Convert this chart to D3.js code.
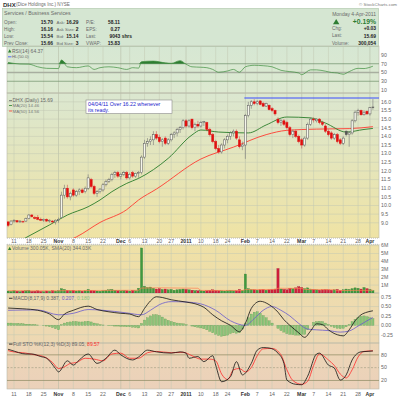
<!DOCTYPE html>
<html><head><meta charset="utf-8">
<script src="https://cdn.jsdelivr.net/npm/d3@7/dist/d3.min.js"></script>
<style>body{margin:0;background:#fff}svg{display:block}text{font-family:"Liberation Sans",Arial,sans-serif}</style>
</head><body><svg id="c" width="400" height="400"></svg>
<script>
// ---------- DATA ----------
const dates = [
"2010-10-07","2010-10-08","2010-10-11","2010-10-12","2010-10-13","2010-10-14","2010-10-15","2010-10-18","2010-10-19","2010-10-20","2010-10-21","2010-10-22","2010-10-25","2010-10-26","2010-10-27","2010-10-28","2010-10-29",
"2010-11-01","2010-11-02","2010-11-03","2010-11-04","2010-11-05","2010-11-08","2010-11-09","2010-11-10","2010-11-11","2010-11-12","2010-11-15","2010-11-16","2010-11-17","2010-11-18","2010-11-19","2010-11-22","2010-11-23","2010-11-24","2010-11-26","2010-11-29","2010-11-30",
"2010-12-01","2010-12-02","2010-12-03","2010-12-06","2010-12-07","2010-12-08","2010-12-09","2010-12-10","2010-12-13","2010-12-14","2010-12-15","2010-12-16","2010-12-17","2010-12-20","2010-12-21","2010-12-22","2010-12-23","2010-12-27","2010-12-28","2010-12-29","2010-12-30","2010-12-31",
"2011-01-03","2011-01-04","2011-01-05","2011-01-06","2011-01-07","2011-01-10","2011-01-11","2011-01-12","2011-01-13","2011-01-14","2011-01-18","2011-01-19","2011-01-20","2011-01-21","2011-01-24","2011-01-25","2011-01-26","2011-01-27","2011-01-28","2011-01-31",
"2011-02-01","2011-02-02","2011-02-03","2011-02-04","2011-02-07","2011-02-08","2011-02-09","2011-02-10","2011-02-11","2011-02-14","2011-02-15","2011-02-16","2011-02-17","2011-02-18","2011-02-22","2011-02-23","2011-02-24","2011-02-25","2011-02-28",
"2011-03-01","2011-03-02","2011-03-03","2011-03-04","2011-03-07","2011-03-08","2011-03-09","2011-03-10","2011-03-11","2011-03-14","2011-03-15","2011-03-16","2011-03-17","2011-03-18","2011-03-21","2011-03-22","2011-03-23","2011-03-24","2011-03-25","2011-03-28","2011-03-29","2011-03-30","2011-03-31",
"2011-04-01","2011-04-04"];

const opens = [9.05,8.90,9.10,9.12,9.05,9.05,9.10,9.25,9.45,9.30,9.30,9.20,9.15,9.20,9.10,9.10,9.05,
9.15,9.30,10.60,11.00,10.50,10.90,10.60,10.80,10.90,10.80,11.00,11.50,11.10,10.70,10.80,10.90,11.20,11.40,11.50,11.80,11.90,
11.70,11.80,11.90,11.60,11.90,11.70,11.85,11.90,12.80,13.60,13.70,13.80,14.10,13.95,13.70,13.90,13.60,13.80,14.10,14.20,14.40,14.50,
14.90,14.60,15.00,14.50,14.70,14.60,14.80,14.80,14.40,14.10,13.70,13.30,13.10,13.50,13.80,14.00,14.20,14.30,13.80,13.40,
13.50,15.20,15.80,16.00,15.90,16.05,15.90,15.75,15.80,15.60,15.50,15.00,14.80,14.90,14.80,14.50,14.10,14.30,14.00,
13.80,13.50,13.90,14.70,15.00,14.90,15.00,14.80,14.60,14.30,14.20,13.90,14.10,13.80,13.60,14.30,14.10,14.20,14.90,15.40,15.50,15.25,15.45,
15.30,15.70];
const highs = [9.10,9.15,9.20,9.15,9.15,9.12,9.30,9.50,9.50,9.40,9.45,9.30,9.25,9.25,9.20,9.15,9.20,
9.30,10.80,11.20,11.20,10.80,11.00,10.90,11.00,11.00,11.10,11.80,11.60,11.20,10.90,11.00,11.30,11.50,11.60,11.90,12.00,12.00,
11.90,12.00,12.00,11.90,12.00,11.90,12.00,12.90,13.80,13.90,14.00,14.30,14.30,14.10,13.90,14.00,13.90,14.20,14.30,14.50,14.60,15.00,
15.00,15.00,15.00,14.80,14.90,14.90,14.90,14.85,14.50,14.20,13.80,13.50,13.60,13.90,14.10,14.30,14.40,14.40,14.00,13.70,
15.30,16.00,16.10,16.15,16.10,16.10,16.00,15.95,15.85,15.70,15.55,15.10,15.00,15.00,14.90,14.60,14.40,14.40,14.10,
13.90,14.00,14.80,15.10,15.10,15.05,15.05,14.90,14.70,14.40,14.30,14.20,14.20,13.90,14.00,14.35,14.30,15.00,15.50,15.60,15.55,15.50,15.50,
15.70,16.16];
const lows = [8.75,8.85,9.00,9.00,9.00,9.00,9.05,9.20,9.30,9.20,9.15,9.10,9.05,9.05,9.00,8.95,8.90,
9.00,9.25,10.40,10.40,10.30,10.50,10.50,10.60,10.70,10.70,10.90,11.00,10.60,10.50,10.70,10.80,11.10,11.30,11.40,11.60,11.60,
11.50,11.70,11.50,11.50,11.60,11.60,11.60,11.80,12.70,13.40,13.50,13.50,13.80,13.60,13.40,13.50,13.50,13.70,13.90,14.00,14.20,14.40,
14.50,14.50,14.40,14.30,14.50,14.50,14.60,14.30,14.00,13.60,13.20,13.00,13.00,13.30,13.60,13.80,14.00,13.80,13.30,13.20,
12.70,15.10,15.60,15.80,15.80,15.80,15.70,15.70,15.50,15.40,15.20,14.70,14.60,14.60,14.40,14.00,13.90,13.90,13.60,
13.30,13.40,13.80,14.60,14.80,14.80,14.70,14.60,14.20,14.00,13.80,13.80,13.60,13.50,13.50,14.00,13.40,14.10,14.80,15.20,15.20,15.20,15.25,
15.20,15.54];
const closes = [8.85,9.10,9.15,9.05,9.10,9.08,9.25,9.45,9.35,9.25,9.20,9.15,9.20,9.10,9.15,9.05,9.15,
9.20,10.60,11.00,10.50,10.70,10.60,10.80,10.90,10.75,11.00,11.60,11.10,10.70,10.80,10.95,11.20,11.40,11.50,11.80,11.90,11.70,
11.80,11.90,11.60,11.80,11.70,11.85,11.90,12.80,13.60,13.70,13.80,14.10,13.90,13.70,13.80,13.60,13.80,14.10,14.20,14.40,14.50,14.90,
14.60,14.90,14.50,14.70,14.60,14.80,14.85,14.40,14.10,13.70,13.30,13.10,13.50,13.80,14.00,14.20,14.30,13.90,13.40,13.50,
15.20,15.80,16.00,15.90,16.00,15.85,15.75,15.90,15.55,15.50,15.30,14.80,14.90,14.70,14.50,14.10,14.30,14.00,13.70,
13.50,13.90,14.70,15.00,14.95,15.00,14.80,14.70,14.30,14.10,13.90,14.10,13.70,13.60,13.90,14.10,14.20,14.90,15.40,15.50,15.25,15.40,15.30,
15.66,15.69];
const volumes = [0.25,0.20,0.30,0.22,0.18,0.25,0.30,0.35,0.20,0.22,0.28,0.20,0.18,0.25,0.22,0.30,0.25,
0.30,0.55,0.45,0.35,0.30,0.35,0.25,0.30,0.22,0.28,0.45,0.35,0.30,0.25,0.22,0.30,0.35,0.40,0.45,0.35,0.30,
0.28,0.32,0.30,0.25,0.35,0.30,0.60,5.70,0.85,0.70,0.75,0.60,0.50,0.55,0.45,0.50,0.40,0.45,0.35,0.40,0.45,0.50,
0.45,0.40,0.35,0.30,0.28,0.30,0.25,0.30,0.35,0.40,0.35,0.30,0.28,0.25,0.30,0.35,0.28,0.30,0.45,0.35,
2.40,0.55,0.45,0.40,0.35,0.40,0.45,0.35,0.40,0.45,0.50,3.10,0.50,0.45,0.40,0.60,0.55,0.65,0.80,
0.70,0.55,0.65,0.50,0.45,0.40,0.35,0.40,0.45,0.40,0.35,0.40,0.45,0.35,0.40,0.50,0.45,0.55,0.65,0.60,0.50,0.70,0.55,
0.45,0.30];
const volSma = [[0,0.30],[17,0.28],[18,0.30],[44,0.35],[45,0.62],[50,0.66],[64,0.60],[65,0.33],[79,0.32],[80,0.43],[90,0.45],[91,0.60],[99,0.58],[100,0.45],[110,0.42],[111,0.31],[123,0.344]];

const ma20 = [[4,7.95],[6,8.14],[14,8.88],[20,9.45],[27,9.93],[31,10.32],[35,10.80],[40,11.28],[44,11.57],[54,12.73],[62,14.08],[65,14.37],[71,14.25],[81,14.20],[87,14.66],[94,15.12],[102,15.07],[107,14.77],[114,14.25],[120,14.40],[123,14.46]];
const ma50 = [[20,7.95],[23,8.18],[31,9.02],[40,9.76],[44,10.32],[50,10.95],[65,12.69],[76,13.38],[87,14.10],[94,14.35],[104,14.42],[115,14.45],[123,14.56]];
const alertLevel = 16.22;

const rsi = [[0,73],[4,69.4],[7,69],[10,63],[13,59.5],[17,59],[18,78.6],[20,63],[23,61],[27,65],[29,57],[31,61],[34,63],[37,61],[40,57],[42,61],[44,60],[45,74.8],[49,76],[53,72],[55,71],[58,77],[60,69],[62,63],[65,62],[67,61],[69,57],[71,50.5],[74,53.5],[76,57],[78,50.5],[80,63],[83,66.5],[86,65.5],[89,63],[92,55],[95,52],[98,49],[99,45],[102,56],[104,56],[107,53],[109,50],[111,49],[113,46],[115,52],[118,59.5],[120,59],[121,60],[123,64.37]];

const macd = [[0,0.46],[5,0.44],[10,0.40],[14,0.30],[17,0.15],[19,0.30],[22,0.40],[27,0.51],[30,0.42],[34,0.36],[38,0.32],[41,0.30],[44,0.23],[46,0.45],[48,0.65],[50,0.76],[52,0.74],[55,0.68],[60,0.62],[64,0.55],[66,0.48],[69,0.28],[72,0.12],[75,0.0],[78,-0.17],[80,0.05],[82,0.45],[85,0.64],[88,0.55],[91,0.35],[93,0.15],[95,0.0],[98,-0.2],[100,-0.32],[102,-0.15],[104,0.04],[106,0.02],[108,-0.12],[111,-0.25],[113,-0.28],[115,-0.12],[117,0.12],[119,0.28],[121,0.35],[123,0.387]];
const signal = [[0,0.40],[10,0.41],[17,0.28],[22,0.32],[27,0.42],[32,0.40],[40,0.33],[45,0.28],[48,0.40],[51,0.55],[55,0.63],[60,0.62],[65,0.57],[70,0.40],[75,0.12],[80,0.0],[83,0.18],[86,0.40],[89,0.50],[92,0.40],[95,0.25],[98,0.05],[101,-0.10],[104,-0.12],[108,-0.14],[112,-0.18],[115,-0.15],[118,-0.02],[121,0.12],[123,0.207]];
const hist = [0.06,0.06,0.05,0.05,0.04,0.04,0.03,0.03,0.02,0.02,0.01,0.00,-0.01,-0.02,-0.04,-0.06,-0.09,
-0.12,0.02,0.06,0.08,0.09,0.10,0.10,0.09,0.09,0.10,0.11,0.09,0.06,0.04,0.02,0.01,0.00,-0.01,-0.01,-0.02,-0.02,
-0.03,-0.03,-0.04,-0.04,-0.05,-0.06,-0.07,0.05,0.14,0.20,0.25,0.28,0.28,0.26,0.22,0.17,0.13,0.10,0.08,0.06,0.05,0.04,
0.02,0.00,-0.02,-0.04,-0.05,-0.07,-0.09,-0.12,-0.16,-0.20,-0.24,-0.27,-0.29,-0.28,-0.26,-0.22,-0.20,-0.21,-0.20,-0.10,
0.06,0.20,0.30,0.35,0.36,0.32,0.26,0.20,0.12,0.06,0.00,-0.08,-0.14,-0.18,-0.22,-0.24,-0.25,-0.26,-0.26,
-0.25,-0.24,-0.12,0.00,0.08,0.10,0.11,0.10,0.06,0.02,-0.03,-0.06,-0.08,-0.09,-0.08,-0.04,0.02,0.10,0.16,0.21,0.24,0.25,0.23,
0.20,0.18];

const stoK = [[0,93],[1,91],[6,82],[8,82],[11,76],[13,72],[16,48],[17,40],[20,66],[22,56],[24,68],[27,82],[30,60],[33,72],[36,91],[38,80],[42,68],[44,75],[47,91],[50,87],[55,84],[58,87],[60,84],[61,72],[64,76],[66,64],[69,78],[70,56],[72,17],[75,29],[77,64],[79,33],[82,60],[84,91],[86,97],[88,96],[91,84],[93,60],[94,21],[97,11],[99,10],[101,30],[104,82],[105,84],[108,56],[110,49],[112,21],[114,33],[116,68],[119,87],[121,88],[123,89.05]];
const stoD = [[0,90],[1,88],[6,84],[9,80],[12,76],[15,62],[17,48],[19,52],[21,60],[23,62],[26,72],[29,70],[32,66],[35,82],[38,84],[41,72],[44,72],[47,85],[50,88],[55,85],[59,86],[62,78],[65,70],[68,70],[70,66],[72,35],[74,22],[76,45],[78,48],[80,40],[82,50],[84,78],[86,94],[89,95],[92,80],[94,45],[96,20],[99,11],[101,18],[103,55],[105,82],[108,68],[110,55],[112,35],[114,26],[116,45],[118,75],[120,88],[123,89.57]];

const tickDates = ["2010-10-11","2010-10-18","2010-10-25","2010-11-01","2010-11-08","2010-11-15","2010-11-22","2010-12-01","2010-12-06","2010-12-13","2010-12-20","2010-12-27","2011-01-03","2011-01-10","2011-01-18","2011-01-24","2011-02-01","2011-02-07","2011-02-14","2011-02-22","2011-03-01","2011-03-07","2011-03-14","2011-03-21","2011-03-28","2011-04-01"];
const tickLabels = ["11","18","25","Nov","8","15","22","Dec","6","13","20","27","2011","10","18","24","Feb","7","14","22","Mar","7","14","21","28","Apr"];
const priceTicks = [16.0,15.5,15.0,14.5,14.0,13.5,13.0,12.5,12.0,11.5,11.0,10.5,10.0,9.5,9.0];
const rsiTicks = [90,70,50,30,10];
const volTicks = [1,2,3,4,5,6];
const macdTicks = [0.75,0.50,0.25,0.00,-0.25];
const stoTicks = [80,50,20];

// ---------- DRAW ----------
const svg = d3.select("#c");
const L = 7, R = 379;
const x = d3.scaleBand().domain(dates).range([6.6, 6.6 + dates.length * 2.966]);
const cx = i => x(dates[i]) + x.bandwidth() / 2;
const isMajor = i => isNaN(+tickLabels[i]) || tickLabels[i] === "2011";

const panels = {
  rsi:  {y0:46, y1:93, c0:"#d6e7d3", c1:"#dde9d0"},
  main: {y0:93, y1:238, c0:"#dbe7d0", c1:"#efe3a4"},
  vol:  {y0:244.5, y1:293, c0:"#efe1a7", c1:"#eedcaa"},
  macd: {y0:293, y1:343, c0:"#eedcae", c1:"#edd8b3"},
  sto:  {y0:343, y1:389, c0:"#edd6b6", c1:"#ebd1ba"}
};
const defs = svg.append("defs");
Object.entries(panels).forEach(([k,p]) => {
  const g = defs.append("linearGradient").attr("id","g_"+k).attr("x1",0).attr("y1",0).attr("x2",0).attr("y2",1);
  g.append("stop").attr("offset","0%").attr("stop-color",p.c0);
  g.append("stop").attr("offset","100%").attr("stop-color",p.c1);
  defs.append("clipPath").attr("id","cl_"+k).append("rect").attr("x",L).attr("y",p.y0).attr("width",R-L).attr("height",p.y1-p.y0);
  svg.append("rect").attr("x",L).attr("y",p.y0).attr("width",R-L).attr("height",p.y1-p.y0).attr("fill","url(#g_"+k+")");
});

svg.append("rect").attr("x",2.5).attr("y",8.5).attr("width",376).attr("height",38).attr("fill","#d5e6d2").attr("stroke","#a9c4a6").attr("stroke-width",0.6);

const yRsi = d3.scaleLinear().domain([0,100]).range([94.4,50.6]);
const yP = d3.scaleLinear().domain([8.12,16.51]).range([238,93]);
const yV = d3.scaleLinear().domain([0,6.14]).range([293,244.5]);
const yM = d3.scaleLinear().domain([-0.47,0.86]).range([343,293]);
const yS = d3.scaleLinear().domain([0,100]).range([389,346.3]);

const gridC = "#c3c9b3";
Object.entries(panels).forEach(([k,p]) => {
  svg.append("g").selectAll("line").data(tickDates).join("line")
    .attr("x1",d=>x(d)+x.bandwidth()/2).attr("x2",d=>x(d)+x.bandwidth()/2)
    .attr("y1",p.y0).attr("y2",p.y1)
    .attr("stroke",(d,i)=>isMajor(i) ? "#b0b6a0" : gridC)
    .attr("stroke-width",0.5);
});
function hgrid(ticks, y, color) {
  svg.append("g").selectAll("line").data(ticks).join("line")
    .attr("x1",L).attr("x2",R).attr("y1",d=>y(d)).attr("y2",d=>y(d))
    .attr("stroke",color||gridC).attr("stroke-width",0.5);
}
function rlabels(ticks, y, fmt) {
  svg.append("g").selectAll("text").data(ticks).join("text")
    .attr("x",381).attr("y",d=>y(d)).attr("dy","0.35em")
    .attr("font-size",5.2).attr("fill","#666").text(fmt);
}
hgrid(priceTicks.concat([16.5]), yP);
hgrid(volTicks, yV);
hgrid(macdTicks, yM);
rlabels(priceTicks, yP, d=>d.toFixed(1));
rlabels(rsiTicks, yRsi, d=>d);
rlabels(volTicks, yV, d=>d+"M");
rlabels(macdTicks, yM, d=>d.toFixed(2));
rlabels(stoTicks, yS, d=>d);

Object.values(panels).forEach(p => {
  svg.append("rect").attr("x",L).attr("y",p.y0).attr("width",R-L).attr("height",p.y1-p.y0)
    .attr("fill","none").attr("stroke","#b9b9a8").attr("stroke-width",0.6);
});

// ---- RSI ----
const rsiG = svg.append("g").attr("clip-path","url(#cl_rsi)");
[70,30].forEach(v=>rsiG.append("line").attr("x1",L).attr("x2",R).attr("y1",yRsi(v)).attr("y2",yRsi(v)).attr("stroke","#6f8f6a").attr("stroke-width",0.7));
rsiG.append("line").attr("x1",L).attr("x2",R).attr("y1",yRsi(50)).attr("y2",yRsi(50)).attr("stroke","#a8aea0").attr("stroke-width",1.6);
const rsiArea = d3.area().x(d=>cx(d[0])).y0(yRsi(70)).y1(d=>yRsi(Math.max(70,d[1]))).curve(d3.curveMonotoneX);
rsiG.append("path").datum(rsi).attr("d",rsiArea).attr("fill","#2e7d32");
rsiG.append("path").datum(rsi).attr("d",d3.line().x(d=>cx(d[0])).y(d=>yRsi(d[1])).curve(d3.curveMonotoneX))
  .attr("fill","none").attr("stroke","#3f8f3f").attr("stroke-width",0.7);

// ---- MAIN ----
const mg = svg.append("g").attr("clip-path","url(#cl_main)");
const priceLine = d3.line().x(d=>cx(d[0])).y(d=>yP(d[1])).curve(d3.curveMonotoneX);
mg.append("path").datum(ma50).attr("d",priceLine).attr("fill","none").attr("stroke","#ff3b30").attr("stroke-width",0.9);
mg.append("path").datum(ma20).attr("d",priceLine).attr("fill","none").attr("stroke","#2a7d2a").attr("stroke-width",0.9);
mg.append("line").attr("x1",cx(80)-1).attr("x2",R).attr("y1",yP(alertLevel)).attr("y2",yP(alertLevel)).attr("stroke","#3b4cff").attr("stroke-width",1);
const bw = 2.1;
dates.forEach((d,i) => {
  const o=opens[i], h=highs[i], l=lows[i], c=closes[i];
  const prev = i>0 ? closes[i-1] : o;
  const col = c >= prev ? "#555" : "#e01010";
  const hollow = c >= o;
  mg.append("line").attr("x1",cx(i)).attr("x2",cx(i)).attr("y1",yP(h)).attr("y2",yP(l)).attr("stroke",col==="#555"?"#777":"#d05050").attr("stroke-width",0.6);
  const top = yP(Math.max(o,c)), bot = yP(Math.min(o,c));
  mg.append("rect").attr("x",cx(i)-bw/2).attr("y",top).attr("width",bw).attr("height",Math.max(0.6,bot-top))
    .attr("fill",hollow ? "#f6f6ec" : col).attr("stroke",col).attr("stroke-width",0.5);
});

// ---- VOLUME ----
const vg = svg.append("g").attr("clip-path","url(#cl_vol)");
vg.selectAll("rect").data(volumes).join("rect")
  .attr("x",(d,i)=>cx(i)-1.1).attr("width",2.2)
  .attr("y",d=>yV(d)).attr("height",d=>yV(0)-yV(d))
  .attr("fill",(d,i)=> i===0 || closes[i]>=closes[i-1] ? "#3f9a3f" : "#d01f3c")
  .attr("stroke",(d,i)=> i===0 || closes[i]>=closes[i-1] ? "#2f7a2f" : "#a01030").attr("stroke-width",0.3);
vg.append("path").datum(volSma).attr("d",d3.line().x(d=>cx(d[0])).y(d=>yV(d[1])))
  .attr("fill","none").attr("stroke","#ff7f50").attr("stroke-width",0.7);

// ---- MACD ----
const mcg = svg.append("g").attr("clip-path","url(#cl_macd)");
mcg.selectAll("rect").data(hist).join("rect")
  .attr("x",(d,i)=>cx(i)-1.1).attr("width",2.2)
  .attr("y",d=>yM(Math.max(0,d))).attr("height",d=>Math.abs(yM(d)-yM(0)))
  .attr("fill","#8cc47a").attr("stroke","#5e9a4f").attr("stroke-width",0.3);
const mLine = d3.line().x(d=>cx(d[0])).y(d=>yM(d[1])).curve(d3.curveMonotoneX);
mcg.append("path").datum(signal).attr("d",mLine).attr("fill","none").attr("stroke","#6a5acd").attr("stroke-width",0.8);
mcg.append("path").datum(macd).attr("d",mLine).attr("fill","none").attr("stroke","#111").attr("stroke-width",0.8);

// ---- STO ----
const sg = svg.append("g").attr("clip-path","url(#cl_sto)");
[80,20].forEach(v=>sg.append("line").attr("x1",L).attr("x2",R).attr("y1",yS(v)).attr("y2",yS(v)).attr("stroke","#8c8a60").attr("stroke-width",0.7));
sg.append("line").attr("x1",L).attr("x2",R).attr("y1",yS(50)).attr("y2",yS(50)).attr("stroke","#9a9a80").attr("stroke-width",0.6).attr("stroke-dasharray","2,1.5");
const sLine = d3.line().x(d=>cx(d[0])).y(d=>yS(d[1])).curve(d3.curveMonotoneX);
sg.append("path").datum(stoD).attr("d",sLine).attr("fill","none").attr("stroke","#ff2a2a").attr("stroke-width",0.8);
sg.append("path").datum(stoK).attr("d",sLine).attr("fill","none").attr("stroke","#111").attr("stroke-width",0.8);

// ---- date axes ----
svg.append("rect").attr("x",L).attr("y",238).attr("width",R-L).attr("height",6.5).attr("fill","#fff");
[238.3,244.3].forEach(yy=>svg.append("line").attr("x1",L).attr("x2",R).attr("y1",yy).attr("y2",yy).attr("stroke","#999").attr("stroke-width",0.5).attr("stroke-dasharray","1,1"));
function dateLabels(yy){
  svg.append("g").selectAll("text").data(tickDates).join("text")
    .attr("x",d=>x(d)+x.bandwidth()/2).attr("y",yy).attr("dy","0.35em").attr("text-anchor","middle")
    .attr("font-size",5.2).attr("fill",(d,i)=>isMajor(i)?"#333":"#666")
    .attr("font-weight",(d,i)=>isMajor(i)?"bold":"normal")
    .text((d,i)=>tickLabels[i]);
}
dateLabels(241.4);
dateLabels(394.3);

// ---- legends / text ----
function t(xx,yy,s,opt={}) {
  return svg.append("text").attr("x",xx).attr("y",yy).attr("dy","0.35em")
    .attr("font-size",opt.size||4.7).attr("fill",opt.fill||"#6a6a6a")
    .attr("font-weight",opt.bold?"bold":"normal").attr("text-anchor",opt.anchor||"start").text(s);
}
t(3,4.5,"DHX",{bold:true,fill:"#333",size:6});
t(16,4.5,"(Dice Holdings Inc.) NYSE",{size:4.6});
t(397,4.5,"© StockCharts.com",{size:4.4,anchor:"end",fill:"#777"});
t(4,13.3,"Services / Business Services",{size:5.2});
const rowsY=[22,29,36,43.3];
const lab1=["Open:","High:","Low:","Prev Close:"], val1=["15.70","16.16","15.54","15.66"];
const lab2=["Ask:","Ask Size:","Bid:","Bid Size:"], val2=["16.29","2","15.14","3"];
const lab3=["P/E:","EPS:","Last:","VWAP:"], val3=["58.11","0.27","9043 shrs","15.83"];
rowsY.forEach((yy,i)=>{
  t(4,yy,lab1[i]); t(53,yy,val1[i],{bold:true,fill:"#222",anchor:"end",size:4.9});
  t(56.5,yy,lab2[i],{size:4.4}); t(78.5,yy,val2[i],{bold:true,fill:"#222",anchor:"end",size:4.9});
  t(86,yy,lab3[i]); t(i===2?132:120,yy,val3[i],{bold:true,fill:"#222",anchor:"end",size:4.9});
});
t(376,14,"Monday  4-Apr-2011",{anchor:"end",size:5});
svg.append("path").attr("d","M333,24.3 L336.2,19 L339.4,24.3 Z").attr("fill","#2e7d32");
t(376,21.7,"+0.19%",{anchor:"end",size:6.8,fill:"#2e7d32",bold:true});
t(332,28.7,"Chg:"); t(376,28.7,"+0.03",{anchor:"end",bold:true,fill:"#222",size:4.9});
t(332,35.8,"Last:"); t(376,35.8,"15.69",{anchor:"end",bold:true,fill:"#222",size:4.9});
t(332,43,"Volume:"); t(376,43,"300,054",{anchor:"end",bold:true,fill:"#222",size:4.9});

svg.append("path").attr("d","M8,52.6 L9.7,49.3 L11.4,52.6 Z").attr("fill","#2e7d32");
t(12,51,"RSI(14) 64.37",{size:5});
svg.append("line").attr("x1",8).attr("x2",11.5).attr("y1",56.8).attr("y2",56.8).attr("stroke","#3b4cff").attr("stroke-width",0.8);
t(12,56.8,"HL(50.0)",{size:4.3});

svg.append("line").attr("x1",9).attr("x2",12).attr("y1",100.7).attr("y2",100.7).attr("stroke","#555").attr("stroke-width",0.8);
t(12.5,100.7,"DHX (Daily) 15.69",{size:5});
svg.append("line").attr("x1",9).attr("x2",12).attr("y1",105.5).attr("y2",105.5).attr("stroke","#2a7d2a").attr("stroke-width",0.8);
t(12.5,105.5,"MA(20) 14.46",{size:4.4,fill:"#777"});
svg.append("line").attr("x1",9).attr("x2",12).attr("y1",111).attr("y2",111).attr("stroke","#ff3b30").attr("stroke-width",0.8);
t(12.5,111,"MA(50) 14.56",{size:4.4,fill:"#777"});
svg.append("rect").attr("x",86).attr("y",100).attr("width",86).attr("height",13.5).attr("fill","#fff").attr("stroke","#8a8a8a").attr("stroke-width",0.6);
t(88,104,"04/04/11 Over 16.22 whenever",{size:5.3,fill:"#1a1acc"});
t(88,110.3,"its ready.",{size:5.3,fill:"#1a1acc"});

svg.append("path").attr("d","M8,250 L9.7,246.7 L11.4,250 Z").attr("fill","#2e7d32");
t(12,248.3,"Volume 300.05K, SMA(20) 344.03K",{size:5});
svg.append("line").attr("x1",9).attr("x2",12.5).attr("y1",298.3).attr("y2",298.3).attr("stroke","#111").attr("stroke-width",0.8);
const mt = svg.append("text").attr("x",13).attr("y",298.3).attr("dy","0.35em").attr("font-size",5).attr("fill","#666");
mt.append("tspan").text("MACD(8,17,9) 0.387, ");
mt.append("tspan").attr("fill","#6a5acd").text("0.207");
mt.append("tspan").text(", ");
mt.append("tspan").attr("fill","#8cc47a").text("0.180");
svg.append("line").attr("x1",9).attr("x2",12.5).attr("y1",344.1).attr("y2",344.1).attr("stroke","#111").attr("stroke-width",0.8);
const st = svg.append("text").attr("x",13).attr("y",344.1).attr("dy","0.35em").attr("font-size",5).attr("fill","#666");
st.append("tspan").text("Full STO %K(12,3) %D(3) 89.05, ");
st.append("tspan").attr("fill","#ff2a2a").text("89.57");
</script></body></html>
